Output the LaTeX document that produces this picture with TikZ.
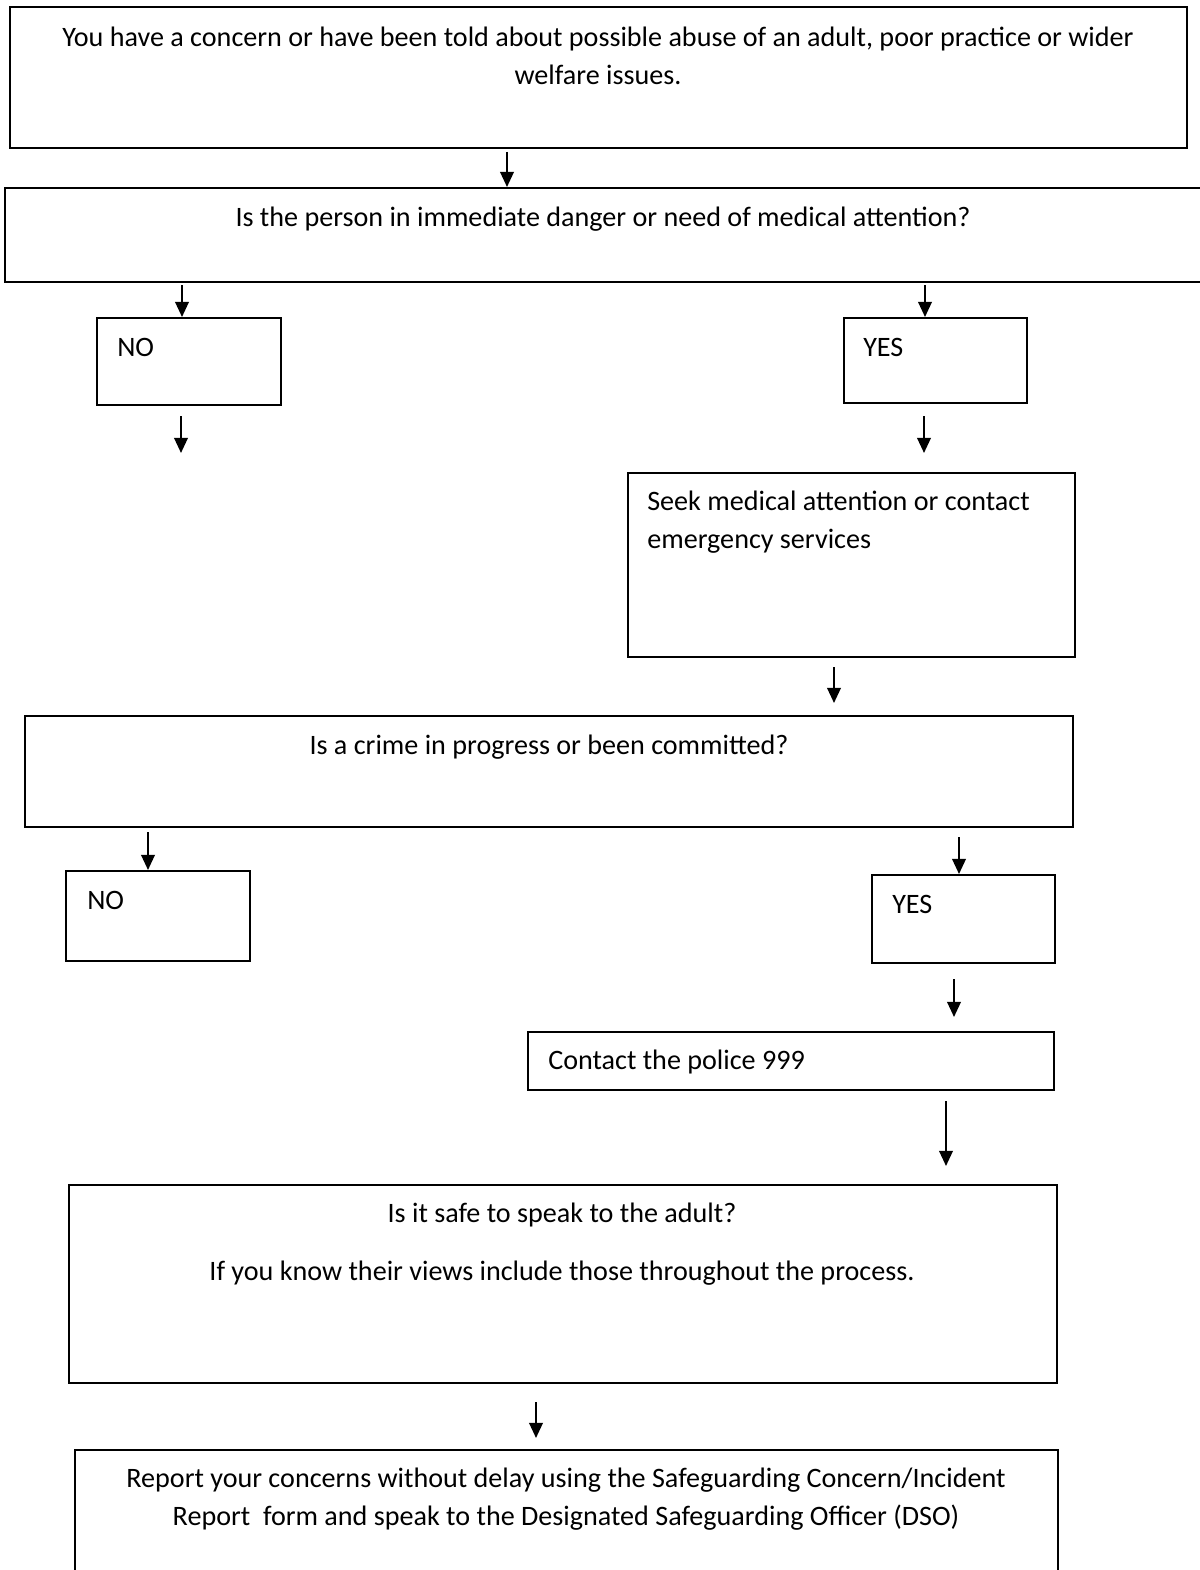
\documentclass[tikz,border=0pt]{standalone}
\usepackage{fontspec}
\setmainfont{Carlito}
\usetikzlibrary{arrows.meta,positioning,fit}
\tikzset{
  nbox/.style={draw, line width=1.4pt, inner sep=0pt},
  ntext/.style={inner sep=0pt, align=center, font=\fontsize{20}{27}\selectfont},
  nleft/.style={ntext, align=left, anchor=west},
  ar/.style={-{Triangle[length=3.8mm,width=3.4mm]}, line width=1.5pt},
}
\begin{document}
\begin{tikzpicture}[x=0.025cm, y=-0.025cm]
  \useasboundingbox (0,0) rectangle (1200,1570);
  % boxes
  \node[nbox, fit={(10,7) (1187,148)}] (concern) {};
  \node[nbox, fit={(5,188) (1203,282)}] (danger) {};
  \node[nbox, fit={(97,318) (281,405)}] (no1) {};
  \node[nbox, fit={(844,318) (1027,403)}] (yes1) {};
  \node[nbox, fit={(628,473) (1075,657)}] (seek) {};
  \node[nbox, fit={(25,716) (1073,827)}] (crime) {};
  \node[nbox, fit={(66,871) (250,961)}] (no2) {};
  \node[nbox, fit={(872,875) (1055,963)}] (yes2) {};
  \node[nbox, fit={(528,1032) (1054,1090)}] (police) {};
  \node[nbox, fit={(69,1185) (1057,1383)}] (safe) {};
  \node[nbox, fit={(75,1450) (1058,1574)}] (report) {};
  % texts
  \node[ntext] at (598,56) {You have a concern or have been told about possible abuse of an adult, poor practice or wider\\welfare issues.};
  \node[ntext] at (603,219) {Is the person in immediate danger or need of medical attention?};
  \node[nleft] at (117,347) {NO};
  \node[nleft] at (863,347) {YES};
  \node[nleft] at (647,522) {Seek medical attention or contact\\emergency services};
  \node[ntext] at (549,747) {Is a crime in progress or been committed?};
  \node[nleft] at (87,900) {NO};
  \node[nleft] at (892,904) {YES};
  \node[nleft] at (548,1062) {Contact the police 999};
  \node[ntext] at (562,1244) {Is it safe to speak to the adult?\\[0.5cm]If you know their views include those throughout the process.};
  \node[ntext] at (566,1499) {Report your concerns without delay using the Safeguarding Concern/Incident\\Report\ \ form and speak to the Designated Safeguarding Officer (DSO)};
  % arrows
  \coordinate (a1) at (507,152);
  \coordinate (a2) at (182,285);
  \coordinate (a3) at (925,285);
  \coordinate (a4) at (181,416);
  \coordinate (a5) at (924,416);
  \coordinate (a6) at (834,667);
  \coordinate (a7) at (148,832);
  \coordinate (a8) at (959,837);
  \coordinate (a9) at (954,979);
  \coordinate (a10) at (946,1101);
  \coordinate (a11) at (536,1402);
  \draw[ar] (a1) -- (a1 |- danger.north);
  \draw[ar] (a2) -- (a2 |- no1.north);
  \draw[ar] (a3) -- (a3 |- yes1.north);
  \draw[ar] (a4) -- ++(0,37);
  \draw[ar] (a5) -- ++(0,37);
  \draw[ar] (a6) -- ++(0,36);
  \draw[ar] (a7) -- ++(0,38);
  \draw[ar] (a8) -- (a8 |- yes2.north);
  \draw[ar] (a9) -- ++(0,38);
  \draw[ar] (a10) -- ++(0,65);
  \draw[ar] (a11) -- ++(0,36);
\end{tikzpicture}
\end{document}
